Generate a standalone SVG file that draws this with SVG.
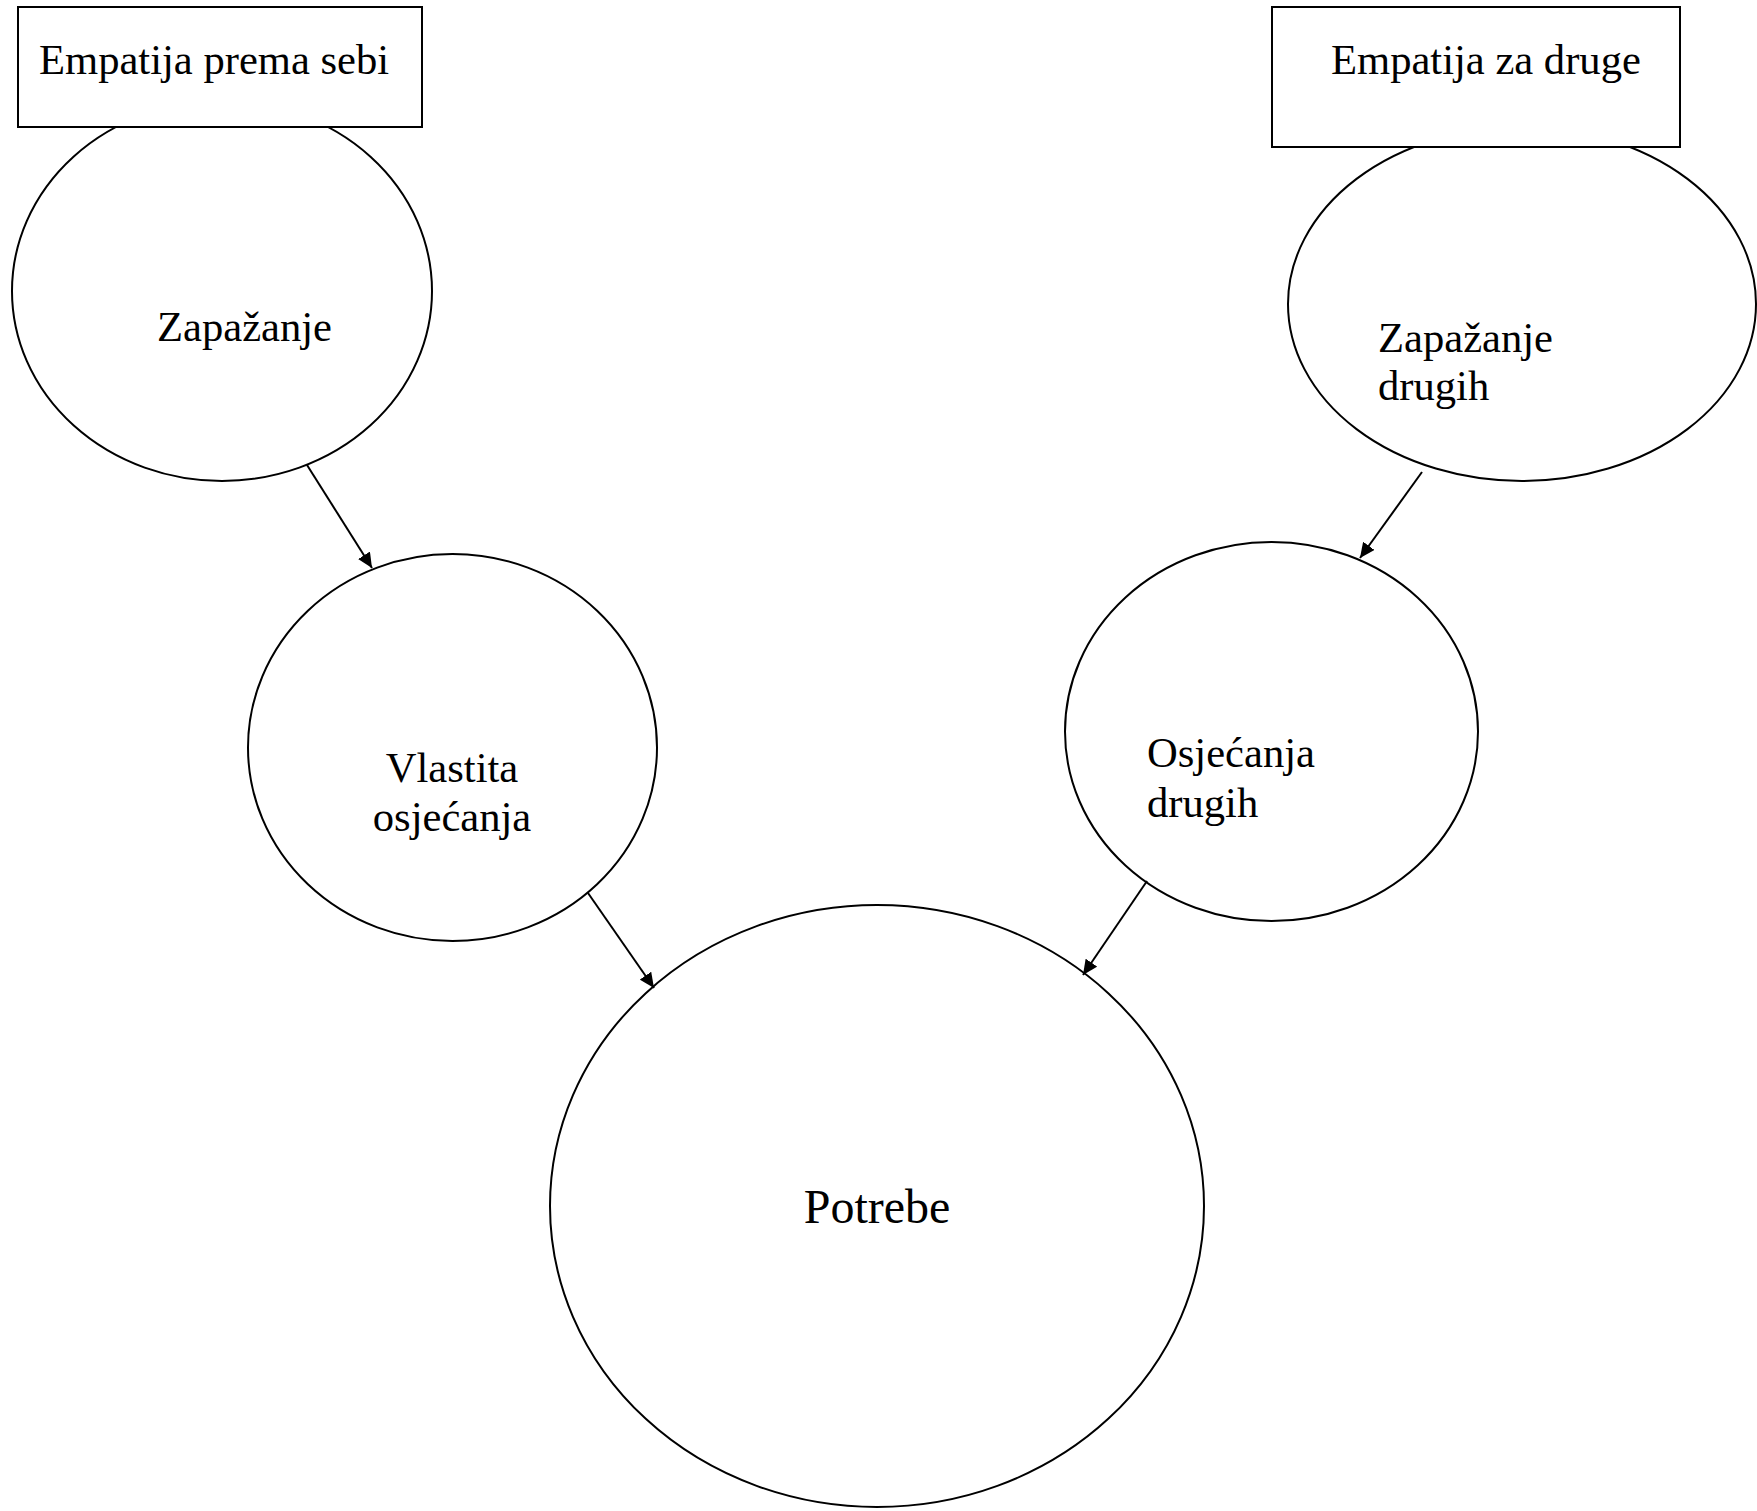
<svg xmlns="http://www.w3.org/2000/svg" width="1757" height="1511" viewBox="0 0 1757 1511">
<style>
.shape{fill:#fff;stroke:#000;stroke-width:2}
.lbl{font-family:"Liberation Serif","Times New Roman",serif;font-size:42.6px;fill:#000}
.big{font-size:48px}
.conn{stroke:#000;stroke-width:2;fill:none;marker-end:url(#arr)}
</style>
<defs>
<marker id="arr" markerUnits="userSpaceOnUse" markerWidth="16" markerHeight="14" refX="15" refY="7" orient="auto">
<path d="M0,0 L15,7 L0,14 Z" fill="#000"/>
</marker>
</defs>
<rect width="1757" height="1511" fill="#fff"/>
<g id="node-zapazanje">
<ellipse class="shape" cx="222" cy="291" rx="210" ry="190"/>
<text class="lbl" x="157" y="341">Zapažanje</text>
</g>
<g id="node-empatija-sebi">
<rect class="shape" x="18" y="7" width="404" height="120"/>
<text class="lbl" x="39" y="74">Empatija prema sebi</text>
</g>
<g id="node-zapazanje-drugih">
<ellipse class="shape" cx="1522" cy="304" rx="234" ry="177"/>
<text class="lbl" x="1378" y="352">Zapažanje</text>
<text class="lbl" x="1378" y="400">drugih</text>
</g>
<g id="node-empatija-drugi">
<rect class="shape" x="1272" y="7" width="408" height="140"/>
<text class="lbl" x="1331" y="74">Empatija za druge</text>
</g>
<g id="node-vlastita">
<ellipse class="shape" cx="452.5" cy="747.5" rx="204.5" ry="193.5"/>
<text class="lbl" x="452" y="782" text-anchor="middle">Vlastita</text>
<text class="lbl" x="452" y="831" text-anchor="middle">osjećanja</text>
</g>
<g id="node-osjecanja-drugih">
<ellipse class="shape" cx="1271.5" cy="731.5" rx="206.5" ry="189.5"/>
<text class="lbl" x="1147" y="767">Osjećanja</text>
<text class="lbl" x="1147" y="817">drugih</text>
</g>
<g id="node-potrebe">
<ellipse class="shape" cx="877" cy="1206" rx="327" ry="301"/>
<text class="lbl big" x="877" y="1223" text-anchor="middle">Potrebe</text>
</g>
<g id="connectors">
<line class="conn" x1="307" y1="465" x2="372" y2="568"/>
<line class="conn" x1="1422" y1="472" x2="1360" y2="558"/>
<line class="conn" x1="588" y1="893" x2="654" y2="988"/>
<line class="conn" x1="1147" y1="881" x2="1083" y2="975"/>
</g>
</svg>
